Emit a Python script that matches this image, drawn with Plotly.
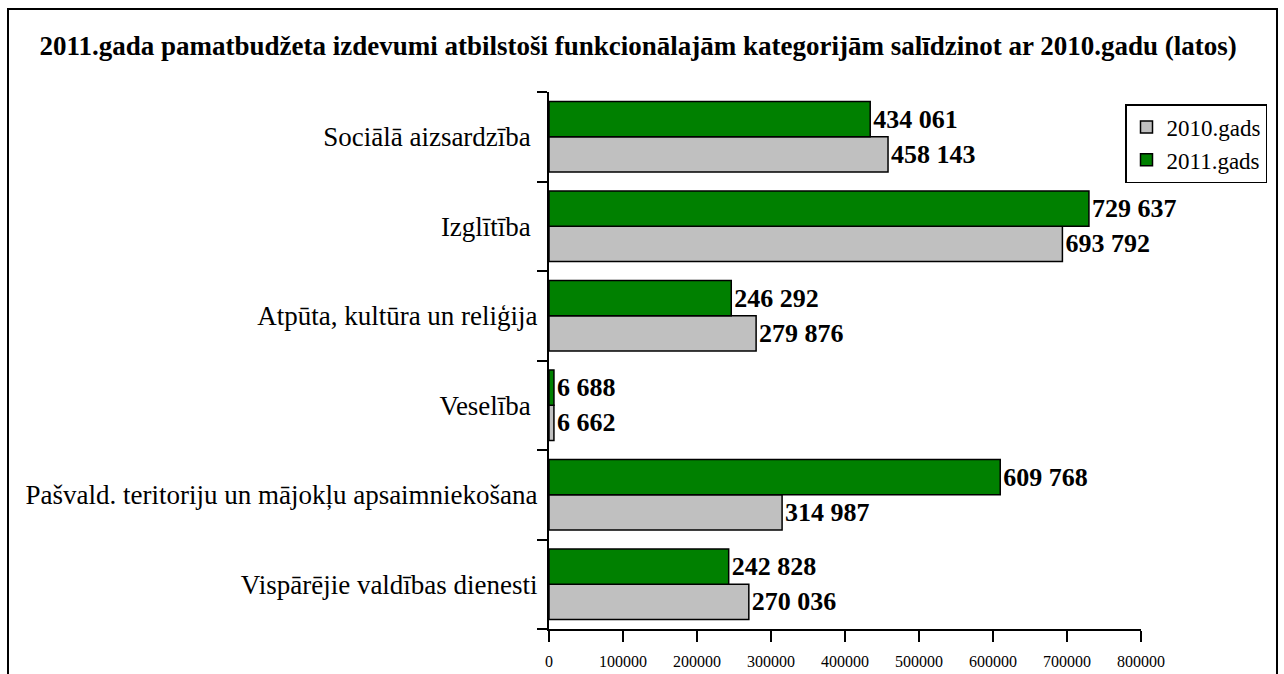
import plotly.graph_objects as go

# categories listed bottom -> top, as they appear on the y axis
categories = [
    "Vispārējie valdības dienesti",
    "Pašvald. teritoriju un mājokļu apsaimniekošana",
    "Veselība\u00a0",
    "Atpūta, kultūra un reliģija",
    "Izglītība\u00a0",
    "Sociālā aizsardzība\u00a0",
]
values_2010 = [270036, 314987, 6662, 279876, 693792, 458143]
values_2011 = [242828, 609768, 6688, 246292, 729637, 434061]
x_ticks = [0, 100000, 200000, 300000, 400000, 500000, 600000, 700000, 800000]

FONT = "Liberation Serif, Times New Roman, serif"

# plot area in pixels, used to place the outer frame in paper units
L, R, T, B = 549, 1141, 92, 629
W, H = R - L, B - T


def px_x(p):
    return (p - L) / W


def px_y(p):
    return (B - p) / H


fig = go.Figure()
for name, vals, color in [
    ("2010.gads", values_2010, "#c0c0c0"),
    ("2011.gads", values_2011, "#008000"),
]:
    fig.add_trace(go.Bar(
        y=categories, x=vals, name=name, orientation="h",
        marker=dict(color=color, line=dict(color="black", width=1.5)),
        texttemplate="%{x:,}", textposition="outside",
        textfont=dict(family=FONT, size=26, color="black", weight="bold"),
        constraintext="none", cliponaxis=False,
    ))

fig.update_layout(
    width=1284, height=674,
    margin=dict(l=L, r=1284 - R, t=T, b=674 - B),
    paper_bgcolor="white", plot_bgcolor="white",
    separators=". ",
    barmode="group", bargap=0.21, bargroupgap=0,
    font=dict(family=FONT, color="black"),
    title=dict(
        text="2011.gada pamatbudžeta izdevumi atbilstoši funkcionālajām kategorijām salīdzinot ar 2010.gadu (latos)",
        font=dict(family=FONT, size=27, color="black", weight="bold"),
        x=0.497, xanchor="center", y=1 - 46 / 674, yanchor="middle",
    ),
    legend=dict(
        x=px_x(1125), y=px_y(104), xanchor="left", yanchor="top",
        bordercolor="black", borderwidth=1.5, bgcolor="white",
        font=dict(family=FONT, size=23, color="black"),
    ),
    showlegend=True,
)
fig.update_xaxes(
    range=[0, 800000], tickvals=x_ticks, tickformat="d",
    showline=True, linecolor="black", linewidth=2,
    ticks="outside", ticklen=11, tickwidth=2, tickcolor="black",
    ticklabelstandoff=6, showgrid=False, zeroline=False, automargin=False,
    tickfont=dict(family=FONT, size=16, color="black"),
)
fig.update_yaxes(
    categoryorder="array", categoryarray=categories,
    showline=True, linecolor="black", linewidth=2,
    ticks="outside", ticklen=10, tickwidth=2, tickcolor="black",
    tickson="boundaries", ticklabelstandoff=4, showgrid=False, automargin=False,
    tickfont=dict(family=FONT, size=27, color="black"),
)
# outer chart frame
fig.add_shape(
    type="rect", xref="paper", yref="paper",
    x0=px_x(8), x1=px_x(1277), y0=px_y(700), y1=px_y(9),
    line=dict(color="black", width=2), fillcolor="rgba(0,0,0,0)",
)

fig.write_html(
    "out.html",
    config={"displayModeBar": False},
    post_script="document.body.style.margin='0';",
)
